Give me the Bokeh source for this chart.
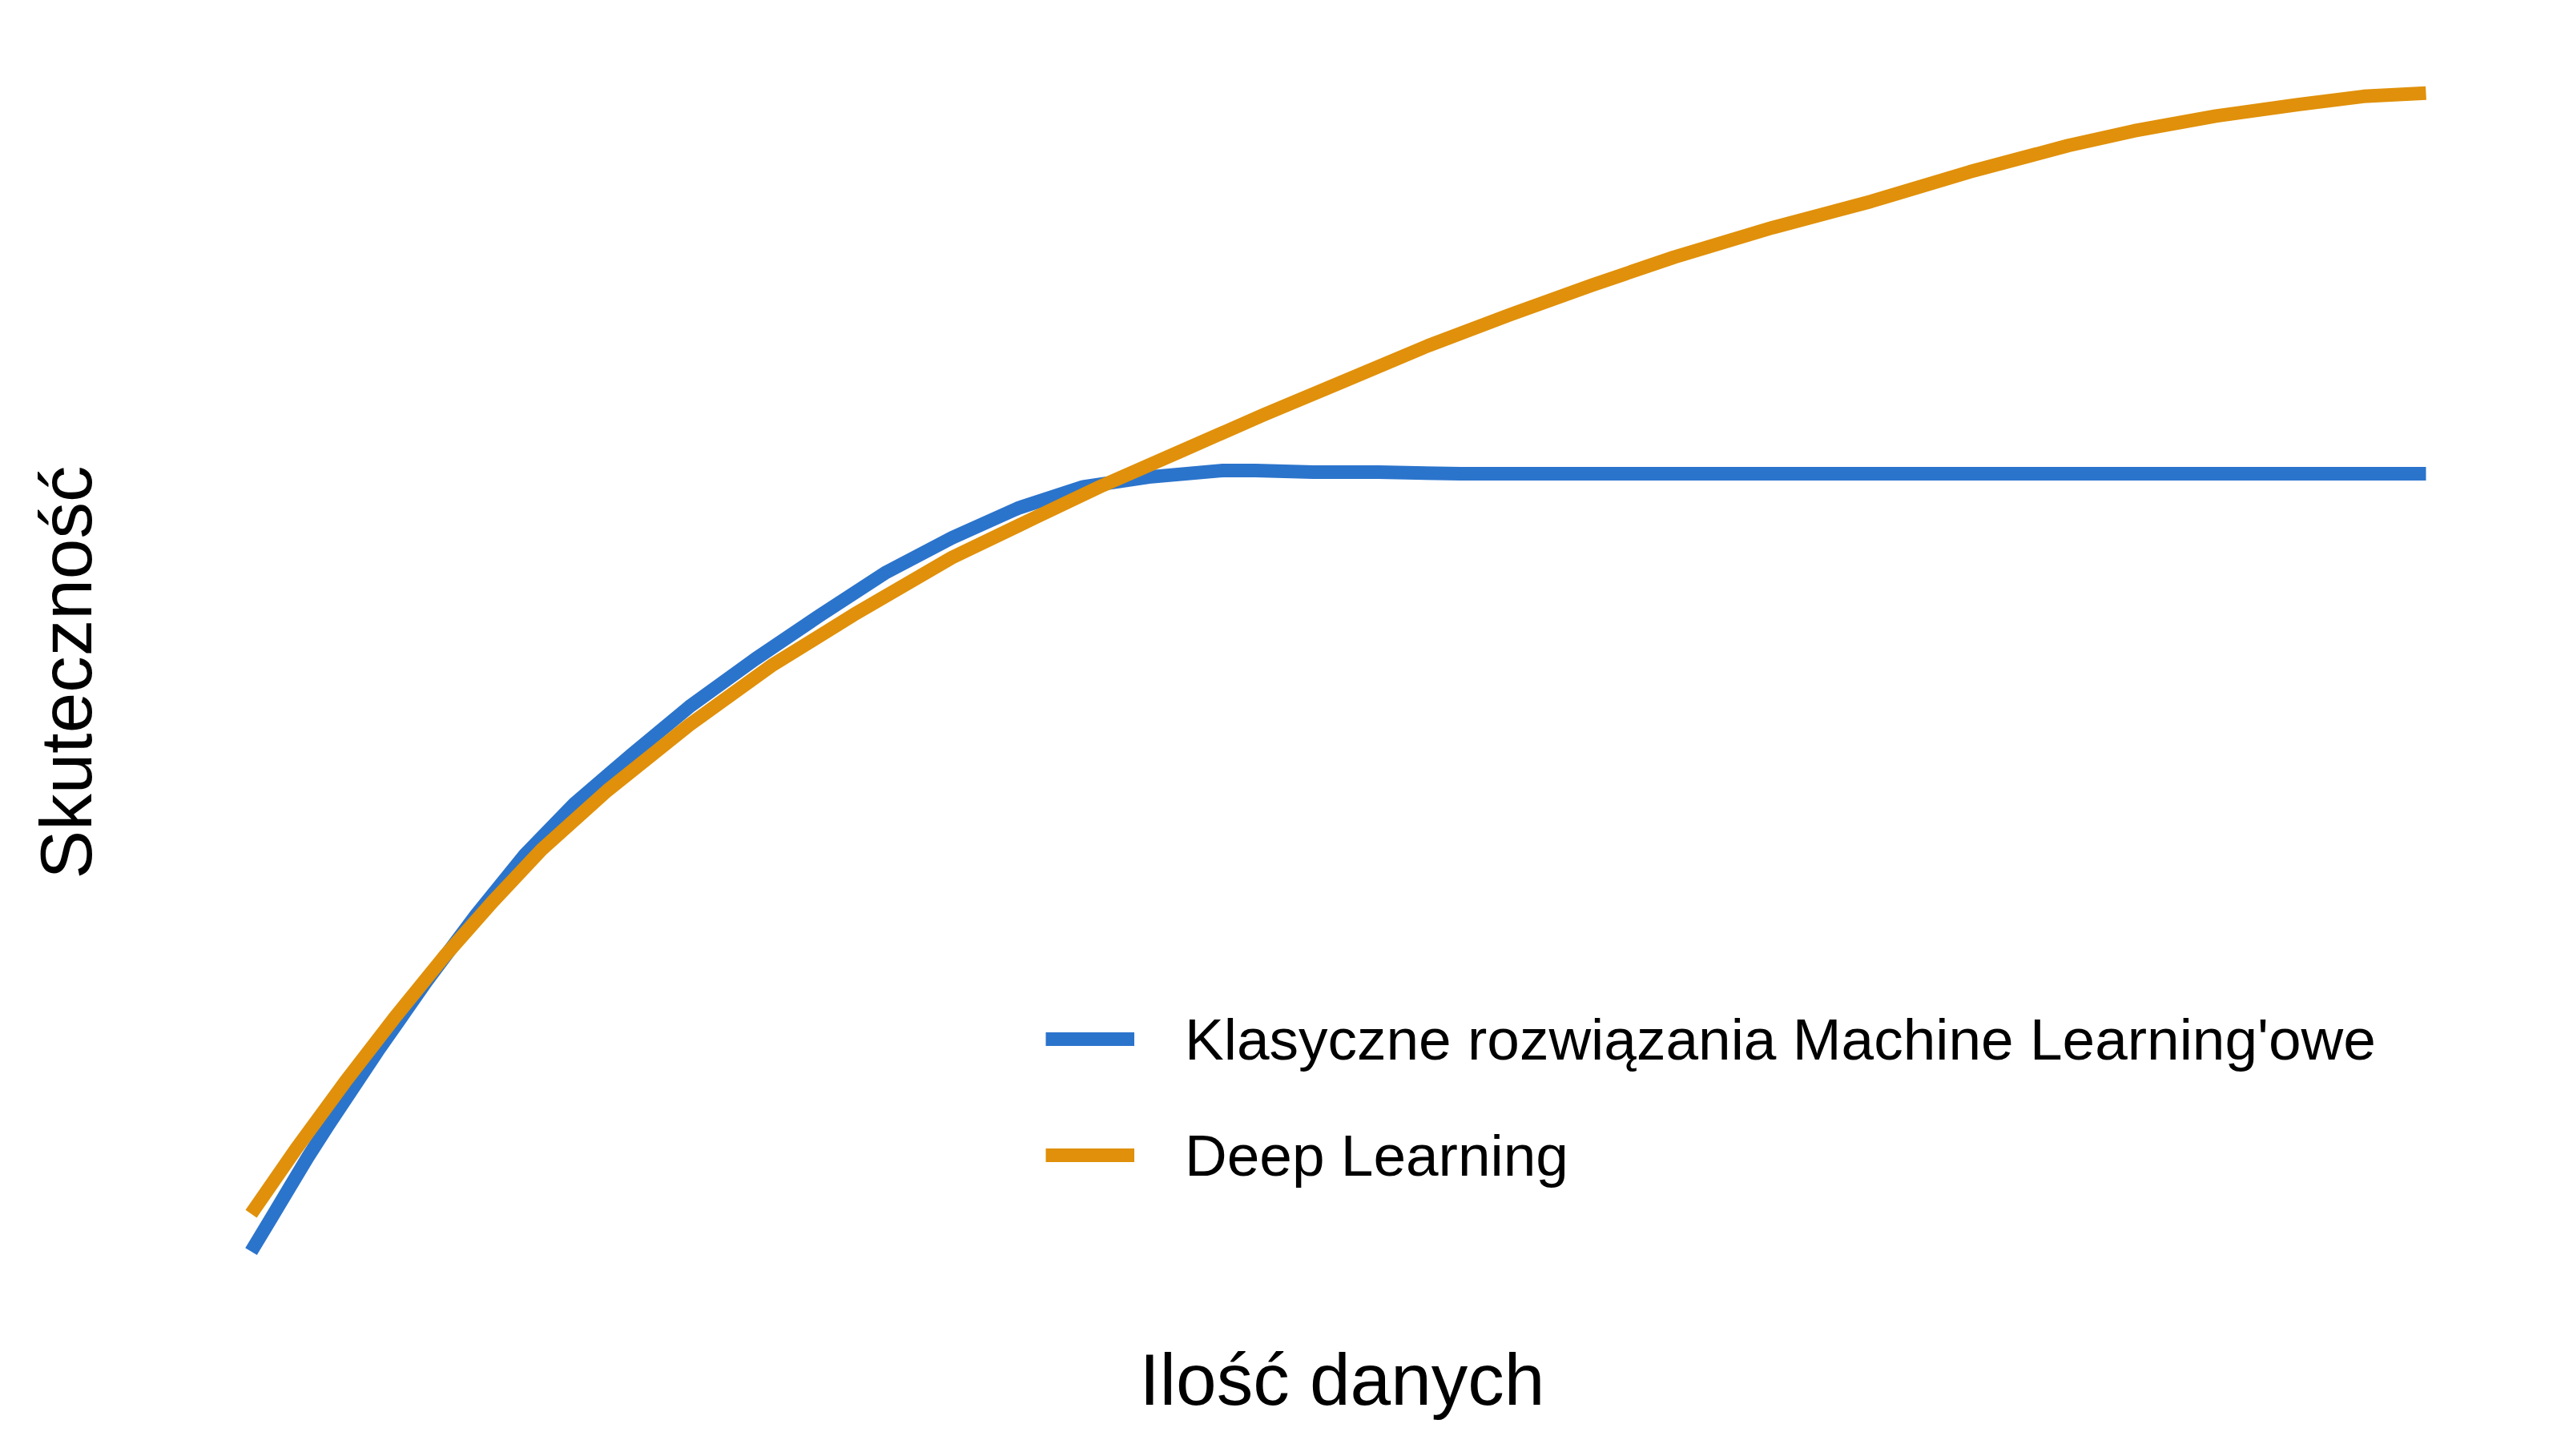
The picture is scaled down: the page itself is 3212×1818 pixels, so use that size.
from bokeh.plotting import figure
from bokeh.models import Range1d, Legend, LegendItem, FixedTicker
from bokeh.embed import file_html
from bokeh.resources import INLINE

# Data (arbitrary units: amount of data 0..100, effectiveness 0..100)
ml_x = [0, 0.9, 1.66, 2.6, 3.55, 5.81, 8.08, 10.34, 12.60, 14.87, 17.51, 20.15, 23.17, 26.19,
        29.21, 32.23, 35.25, 38.26, 41.28, 44.68, 46.19, 48.83, 51.85, 55.62, 63.92, 100]
ml_y = [4.63, 7.1, 9.2, 11.8, 14.25, 19.88, 25.25, 30.25, 34.88, 38.75, 42.5, 46.13, 49.75, 53.13,
        56.38, 59.0, 61.25, 62.88, 63.63, 64.13, 64.13, 64.0, 64.0, 63.88, 63.88, 63.88]

dl_x = [0, 2.04, 4.30, 6.57, 8.83, 11.09, 13.36, 16.38, 20.15, 23.92, 27.70, 32.23, 36.0,
        39.17, 42.79, 46.57, 50.34, 54.11, 57.89, 61.66, 65.43, 69.96, 74.49, 79.02, 83.55,
        86.57, 90.34, 94.11, 97.13, 100]
dl_y = [7.5, 12.38, 17.5, 22.38, 27.0, 31.25, 35.25, 39.75, 44.75, 49.25, 53.13, 57.5, 60.5,
        63.0, 65.63, 68.38, 71.0, 73.63, 76.0, 78.25, 80.38, 82.63, 84.63, 86.88, 88.88,
        90.0, 91.13, 92.0, 92.63, 92.88]

series_names = ["Klasyczne rozwiązania Machine Learning'owe", "Deep Learning"]
x_title = "Ilość danych"
y_title = "Skuteczność"

BLUE = "#2b74cc"
ORANGE = "#e0900a"
FONT = "Liberation Sans"

p = figure(width=3212, height=1818, output_backend="svg", toolbar_location=None,
           x_range=Range1d(-4.567, 104.9), y_range=Range1d(0.0, 97.5),
           min_border_left=189, min_border_right=51, min_border_top=40, min_border_bottom=180)

p.background_fill_color = "white"
p.border_fill_color = "white"
p.outline_line_color = None
p.grid.visible = False

for ax in (p.xaxis[0], p.yaxis[0]):
    ax.ticker = FixedTicker(ticks=[])
    ax.axis_line_color = None
    ax.major_tick_line_color = None
    ax.minor_tick_line_color = None
    ax.major_label_text_font_size = "0px"
    ax.axis_label_text_font = FONT
    ax.axis_label_text_font_size = "91px"
    ax.axis_label_text_font_style = "normal"
    ax.axis_label_text_color = "black"

p.xaxis[0].axis_label = x_title
p.xaxis[0].axis_label_standoff = 33
p.yaxis[0].axis_label = y_title
p.yaxis[0].axis_label_standoff = 57

r1 = p.line(ml_x, ml_y, line_color=BLUE, line_width=17, line_join="round")
r2 = p.line(dl_x, dl_y, line_color=ORANGE, line_width=17, line_join="round")

legend = Legend(items=[LegendItem(label=series_names[0], renderers=[r1]),
                       LegendItem(label=series_names[1], renderers=[r2])],
                location=(1116, 146), orientation="vertical",
                glyph_width=111, glyph_height=100, label_height=100,
                label_standoff=63, spacing=45, padding=0, margin=0,
                border_line_color=None, background_fill_alpha=0,
                label_text_font=FONT, label_text_font_size="73px",
                label_text_color="black")
p.add_layout(legend, "center")

open("out.html", "w").write(file_html(p, INLINE))
